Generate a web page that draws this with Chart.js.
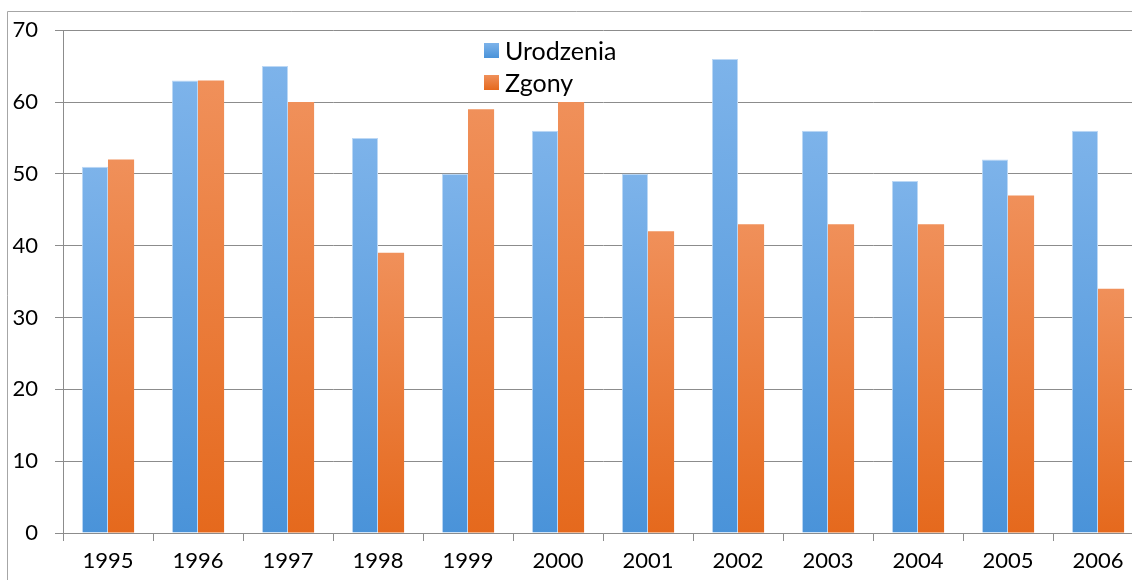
<!DOCTYPE html>
<html>
<head>
<meta charset="utf-8">
<script src="https://cdn.jsdelivr.net/npm/chart.js@4"></script>
<style>
  html, body { margin: 0; padding: 0; background: #fff; overflow: hidden; }
  #wrap { position: absolute; left: 0; top: 0; width: 1145px; height: 580px; }
</style>
</head>
<body>
<div id="wrap"><canvas id="chart"></canvas></div>
<script>
const years = ['1995', '1996', '1997', '1998', '1999', '2000', '2001', '2002', '2003', '2004', '2005', '2006'];
const urodzenia = [51, 63, 65, 55, 50, 56, 50, 66, 56, 49, 52, 56];
const zgony = [52, 63, 60, 39, 59, 60, 42, 43, 43, 43, 47, 34];
const yTicks = [0, 10, 20, 30, 40, 50, 60, 70];

const FONT = 'Lato';

function barGradient(top, bottom) {
  return (c) => {
    const chart = c.chart;
    const area = chart.chartArea;
    if (!area || c.raw == null) return bottom;
    const y = chart.scales.y;
    const y0 = y.getPixelForValue(c.raw);
    const y1 = y.getPixelForValue(0);
    const g = chart.ctx.createLinearGradient(0, y0, 0, y1);
    g.addColorStop(0, top);
    g.addColorStop(1, bottom);
    return g;
  };
}

const frame = {
  id: 'frame',
  beforeDraw(chart) {
    const ctx = chart.ctx;
    ctx.save();
    ctx.strokeStyle = '#a6a6a6';
    ctx.lineWidth = 1;
    ctx.beginPath();
    ctx.moveTo(7.5, 580);
    ctx.lineTo(7.5, 11.5);
    ctx.lineTo(chart.width, 11.5);
    ctx.stroke();
    ctx.restore();
  },
  afterDraw(chart) {
    const ctx = chart.ctx;
    ctx.save();
    ctx.font = '25px ' + FONT;
    ctx.textBaseline = 'middle';
    chart.data.datasets.forEach((ds, i) => {
      const y = 50.5 + i * 32;
      const g = ctx.createLinearGradient(0, y - 7.5, 0, y + 7.5);
      g.addColorStop(0, ds.legendTop);
      g.addColorStop(1, ds.legendBottom);
      ctx.fillStyle = g;
      ctx.fillRect(484, y - 7.5, 15, 15);
      ctx.fillStyle = '#000';
      ctx.fillText(ds.label, 505, y + 1);
    });
    ctx.restore();
  }
};

new Chart(document.getElementById('chart'), {
  type: 'bar',
  data: {
    labels: years,
    datasets: [{
      label: 'Urodzenia',
      data: urodzenia,
      backgroundColor: barGradient('#7db3ea', '#4a93d9'),
      borderColor: '#bcd8f5',
      borderWidth: 1,
      legendTop: '#7db3ea',
      legendBottom: '#4a93d9'
    }, {
      label: 'Zgony',
      data: zgony,
      backgroundColor: barGradient('#f0905a', '#e5691d'),
      borderColor: 'rgba(0,0,0,0)',
      borderWidth: 0,
      legendTop: '#f0905a',
      legendBottom: '#e5691d'
    }]
  },
  options: {
    responsive: true,
    maintainAspectRatio: false,
    animation: false,
    layout: { padding: { top: 29, right: 2, left: 0, bottom: 0 } },
    categoryPercentage: 0.58,
    barPercentage: 1,
    plugins: {
      legend: { display: false },
      tooltip: { enabled: false }
    },
    scales: {
      x: {
        offset: true,
        grid: {
          offset: true,
          drawOnChartArea: false,
          drawTicks: true,
          tickLength: 8,
          color: '#8c8c8c'
        },
        border: { color: '#8c8c8c' },
        ticks: { color: '#000', font: { family: FONT, size: 22 }, padding: 7, maxRotation: 0 },
        afterFit(s) { s.height = 47; }
      },
      y: {
        min: 0,
        max: 70,
        afterBuildTicks(s) { s.ticks = yTicks.map(v => ({ value: v })); },
        grid: { color: '#8c8c8c', tickLength: 8 },
        border: { color: '#8c8c8c' },
        ticks: { color: '#000', font: { family: FONT, size: 22 }, padding: 17 },
        afterFit(s) { s.width = 63; }
      }
    }
  },
  plugins: [frame]
});
</script>
</body>
</html>
